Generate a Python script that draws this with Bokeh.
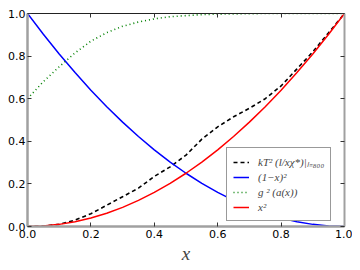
from bokeh.plotting import figure
from bokeh.models import LinearAxis, Range1d, Legend, LegendItem, FixedTicker, NumeralTickFormatter
from bokeh.embed import file_html
from bokeh.resources import INLINE

xs = [0.0, 0.05, 0.1, 0.15, 0.2, 0.25, 0.3, 0.35, 0.4, 0.45, 0.5,
      0.55, 0.6, 0.65, 0.7, 0.75, 0.8, 0.85, 0.9, 0.95, 1.0]
kt2 = [0.0, 0.002, 0.01, 0.03, 0.06, 0.1, 0.14, 0.18, 0.235, 0.28, 0.335,
       0.41, 0.468, 0.515, 0.555, 0.6, 0.66, 0.74, 0.82, 0.91, 1.0]
one_minus_x_sq = [1.0, 0.9025, 0.81, 0.7225, 0.64, 0.5625, 0.49, 0.4225, 0.36, 0.3025, 0.25,
                  0.2025, 0.16, 0.1225, 0.09, 0.0625, 0.04, 0.0225, 0.01, 0.0025, 0.0]
g2 = [0.6, 0.68, 0.75, 0.815, 0.87, 0.91, 0.94, 0.96, 0.975, 0.985, 0.99,
      0.995, 0.997, 0.998, 0.999, 1.0, 1.0, 1.0, 1.0, 1.0, 1.0]
x_sq = [0.0, 0.0025, 0.01, 0.0225, 0.04, 0.0625, 0.09, 0.1225, 0.16, 0.2025, 0.25,
        0.3025, 0.36, 0.4225, 0.49, 0.5625, 0.64, 0.7225, 0.81, 0.9025, 1.0]
ticks = [0.0, 0.2, 0.4, 0.6, 0.8, 1.0]
labels = ["kT² (l/xχ*)|ₗ₌₈₀₀", "(1−x)²", "g ² (a(x))", "x²"]

p = figure(width=352, height=266, output_backend="svg", toolbar_location=None,
           x_range=Range1d(0, 1), y_range=Range1d(0, 1),
           min_border_left=27, min_border_right=8, min_border_top=13, min_border_bottom=36)
p.outline_line_color = None
p.xgrid.visible = False
p.ygrid.visible = False
p.background_fill_color = "white"

r1 = p.line(xs, kt2, line_color="black", line_width=1.6, line_dash="4 3")
r2 = p.line(xs, one_minus_x_sq, line_color="#0000ff", line_width=1.5)
r3 = p.line(xs, g2, line_color="#008000", line_width=1.6, line_dash="1 3")
r4 = p.line(xs, x_sq, line_color="#ff0000", line_width=1.5)

def style(ax, color, width, labels_on=True):
    ax.ticker = FixedTicker(ticks=ticks)
    ax.minor_tick_line_color = None
    ax.major_tick_in = 4
    ax.major_tick_out = 0
    ax.major_tick_line_color = "#333333"
    ax.axis_line_color = color
    ax.axis_line_width = width
    if labels_on:
        ax.formatter = NumeralTickFormatter(format="0.0")
        ax.major_label_text_font = "DejaVu Sans"
        ax.major_label_text_font_size = "11px"
        ax.major_label_text_color = "black"
        ax.major_label_standoff = 3
    else:
        ax.major_label_overrides = {t: "" for t in ticks}
        ax.major_label_standoff = 0

style(p.xaxis[0], "#a0a0a0", 2.5)
style(p.yaxis[0], "#a0a0a0", 2.5)
p.yaxis[0].major_label_standoff = 2
p.xaxis[0].axis_label = "x"
p.xaxis[0].axis_label_text_font = "Liberation Serif"
p.xaxis[0].axis_label_text_font_style = "italic"
p.xaxis[0].axis_label_text_font_size = "19px"
p.xaxis[0].axis_label_standoff = 2

top = LinearAxis()
style(top, "#222222", 1.2, labels_on=False)
p.add_layout(top, "above")
right = LinearAxis()
style(right, "#a0a0a0", 2, labels_on=False)
p.add_layout(right, "right")

legend = Legend(items=[LegendItem(label=labels[0], renderers=[r1]),
                       LegendItem(label=labels[1], renderers=[r2]),
                       LegendItem(label=labels[2], renderers=[r3]),
                       LegendItem(label=labels[3], renderers=[r4])],
                location=(199, 5))
legend.label_text_font = "Liberation Serif"
legend.label_text_font_style = "italic"
legend.label_text_font_size = "11px"
legend.label_height = 14
legend.glyph_height = 14
legend.glyph_width = 16
legend.label_standoff = 9
legend.spacing = 1
legend.padding = 6
legend.margin = 0
legend.border_line_color = "#333333"
legend.border_line_width = 1
legend.background_fill_alpha = 1
p.add_layout(legend, "center")

open("out.html", "w").write(file_html(p, INLINE))
